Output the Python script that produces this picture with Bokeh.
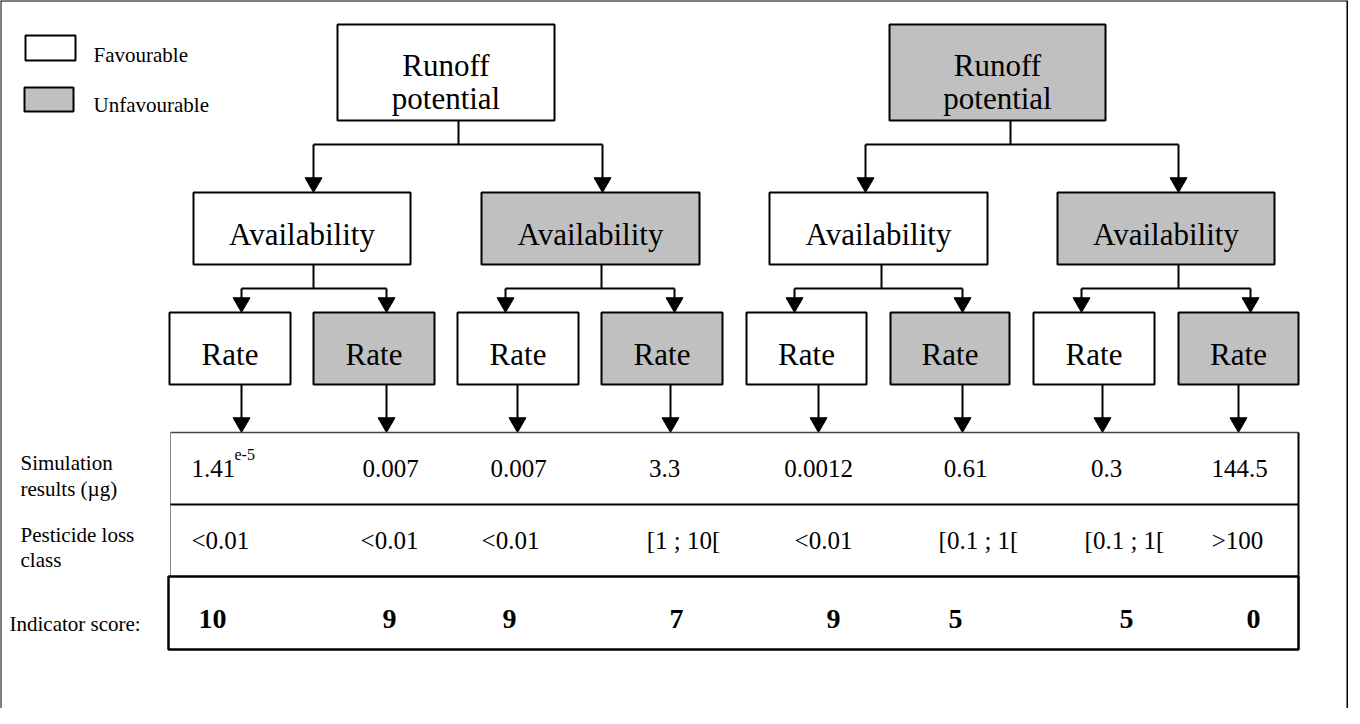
from bokeh.plotting import figure
from bokeh.models import Range1d
from bokeh.core.properties import value
from bokeh.embed import file_html
from bokeh.resources import INLINE

# ---------------- data ----------------
legend_labels = ["Favourable", "Unfavourable"]
legend_states = ["fav", "unfav"]

runoff_lines = ["Runoff", "potential"]
runoff_states = ["fav", "unfav"]
avail_label = "Availability"
avail_states = ["fav", "unfav", "fav", "unfav"]
rate_label = "Rate"
rate_states = ["fav", "unfav", "fav", "unfav", "fav", "unfav", "fav", "unfav"]

row_labels = [["Simulation", "results (\u00b5g)"], ["Pesticide loss", "class"], ["Indicator score:"]]
sim_results = ["1.41", "0.007", "0.007", "3.3", "0.0012", "0.61", "0.3", "144.5"]
sim_exponents = ["e-5", "", "", "", "", "", "", ""]
loss_classes = ["<0.01", "<0.01", "<0.01", "[1 ; 10[", "<0.01", "[0.1 ; 1[", "[0.1 ; 1[", ">100"]
scores = ["10", "9", "9", "7", "9", "5", "5", "0"]

# ---------------- style / layout ----------------
FILL = {"fav": "#ffffff", "unfav": "#c0c0c0"}
FONT = value("Liberation Serif")

legend_box_x = [(33, 83), (32, 81)]
legend_box_y = [(43, 68), (95, 119)]
legend_text_x = 101
legend_text_y = [62, 112]

runoff_x = [(345, 562), (897, 1113)]
runoff_y = (32, 128)
runoff_stem = [466, 1018]
runoff_text_y = [73, 106]
bar1_y = 152
avail_in = [(321, 610), (873, 1186)]

avail_x = [(201, 418), (489, 707), (777, 995), (1065, 1282)]
avail_y = (200, 272)
avail_text_y = 242
avail_stem = [321, 609, 889, 1186]
bar2_y = 296
rate_in = [(249, 394), (513, 682), (802, 970), (1089, 1258)]

rate_x = [(177, 298), (321, 442), (465, 586), (609, 730),
          (754, 874), (898, 1017), (1041, 1162), (1186, 1306)]
rate_y = (320, 392)
rate_text_y = 362
rate_out = [249, 394, 525, 678, 826, 970, 1110, 1246]

tab_left, tab_right = 178, 1306
tab_top, tab_div1, tab_div2, tab_bottom = 440, 512, 584, 657
score_left = 176

row1_x = [199, 398, 526, 672, 826, 973, 1114, 1247]
row2_x = [199, 397, 518, 691, 831, 986, 1132, 1245]
row3_x = [220, 397, 517, 684, 841, 963, 1134, 1261]
row_base = [476, 548, 626]

label_x = [28, 28, 17]
label_base = [[470, 496], [542, 567], [631]]

W, H = 1348, 708
p = figure(width=W, height=H, output_backend="svg", toolbar_location=None,
           x_range=Range1d(8, 8 + W), y_range=Range1d(8 + H, 8),
           min_border=0, outline_line_color=None)
p.axis.visible = False
p.grid.visible = False
p.background_fill_color = "white"
p.border_fill_color = "white"

LW = 2

# outer frame (left, top, right)
p.segment(x0=[8, 8, 1355], y0=[8, 8, 8], x1=[8, 1355, 1355], y1=[8 + H, 8, 8 + H],
          line_color="black", line_width=2)

# legend
p.quad(left=[a for a, b in legend_box_x], right=[b for a, b in legend_box_x],
       top=[a for a, b in legend_box_y], bottom=[b for a, b in legend_box_y],
       fill_color=[FILL[s] for s in legend_states], line_color="black", line_width=LW)
p.text(x=[legend_text_x] * 2, y=legend_text_y, text=legend_labels, text_font=FONT,
       text_font_size=value("21px"), text_align="left", text_baseline="alphabetic", text_color="black")

ARW = 17
TIP = ARW / 2 * 1.732 * 2 / 3  # centre-to-tip distance of a triangle marker

def arrows(xs, y_from, y_tip):
    p.segment(x0=xs, y0=[y_from] * len(xs), x1=xs, y1=[y_tip - 8] * len(xs),
              line_color="black", line_width=LW)
    p.scatter(x=xs, y=[y_tip - TIP] * len(xs), marker="inverted_triangle", size=ARW,
              fill_color="black", line_color="black", line_width=1)

# level 1 -> level 2 connectors
p.segment(x0=runoff_stem, y0=[runoff_y[1]] * 2, x1=runoff_stem, y1=[bar1_y] * 2,
          line_color="black", line_width=LW)
p.segment(x0=[a for a, b in avail_in], y0=[bar1_y] * 2, x1=[b for a, b in avail_in], y1=[bar1_y] * 2,
          line_color="black", line_width=LW)
arrows([x for pair in avail_in for x in pair], bar1_y, avail_y[0])

# level 2 -> level 3 connectors
p.segment(x0=avail_stem, y0=[avail_y[1]] * 4, x1=avail_stem, y1=[bar2_y] * 4,
          line_color="black", line_width=LW)
p.segment(x0=[a for a, b in rate_in], y0=[bar2_y] * 4, x1=[b for a, b in rate_in], y1=[bar2_y] * 4,
          line_color="black", line_width=LW)
arrows([x for pair in rate_in for x in pair], bar2_y, rate_y[0])

# level 3 -> table
arrows(rate_out, rate_y[1], tab_top)

# boxes
p.quad(left=[a for a, b in runoff_x], right=[b for a, b in runoff_x], top=[runoff_y[0]] * 2,
       bottom=[runoff_y[1]] * 2, fill_color=[FILL[s] for s in runoff_states],
       line_color="black", line_width=LW)
p.quad(left=[a for a, b in avail_x], right=[b for a, b in avail_x], top=[avail_y[0]] * 4,
       bottom=[avail_y[1]] * 4, fill_color=[FILL[s] for s in avail_states],
       line_color="black", line_width=LW)
p.quad(left=[a for a, b in rate_x], right=[b for a, b in rate_x], top=[rate_y[0]] * 8,
       bottom=[rate_y[1]] * 8, fill_color=[FILL[s] for s in rate_states],
       line_color="black", line_width=LW)

BOX_FS = value("31px")
for (a, b) in runoff_x:
    p.text(x=[(a + b) / 2] * 2, y=runoff_text_y, text=runoff_lines, text_font=FONT,
           text_font_size=BOX_FS, text_align="center", text_baseline="alphabetic", text_color="black")
p.text(x=[(a + b) / 2 for a, b in avail_x], y=[avail_text_y] * 4, text=[avail_label] * 4,
       text_font=FONT, text_font_size=BOX_FS, text_align="center", text_baseline="alphabetic",
       text_color="black")
p.text(x=[(a + b) / 2 for a, b in rate_x], y=[rate_text_y] * 8, text=[rate_label] * 8,
       text_font=FONT, text_font_size=BOX_FS, text_align="center", text_baseline="alphabetic",
       text_color="black")

# table lines
p.segment(x0=[tab_left], y0=[tab_top], x1=[tab_right], y1=[tab_top], line_color="#444444", line_width=1.5)
p.segment(x0=[tab_left], y0=[tab_top], x1=[tab_left], y1=[tab_div2], line_color="#888888", line_width=1)
p.segment(x0=[tab_left], y0=[tab_div1], x1=[tab_right], y1=[tab_div1], line_color="black", line_width=2)
p.segment(x0=[tab_right], y0=[tab_top], x1=[tab_right], y1=[tab_div2], line_color="black", line_width=2)
p.quad(left=[score_left], right=[tab_right], top=[tab_div2], bottom=[tab_bottom],
       fill_color=None, line_color="black", line_width=2.5)

# row labels
for lx, lines, bases in zip(label_x, row_labels, label_base):
    p.text(x=[lx] * len(lines), y=bases, text=lines, text_font=FONT, text_font_size=value("21px"),
           text_align="left", text_baseline="alphabetic", text_color="black")

# simulation results
p.text(x=row1_x[:1], y=[row_base[0]], text=sim_results[:1], text_font=FONT,
       text_font_size=value("25px"), text_align="left", text_baseline="alphabetic", text_color="black")
p.text(x=row1_x[1:], y=[row_base[0]] * 7, text=sim_results[1:], text_font=FONT,
       text_font_size=value("25px"), text_align="center", text_baseline="alphabetic", text_color="black")
p.text(x=[row1_x[0] + 43], y=[row_base[0] - 14], text=sim_exponents[:1], text_font=FONT,
       text_font_size=value("16px"), text_align="left", text_baseline="alphabetic", text_color="black")

# loss classes
p.text(x=row2_x[:1], y=[row_base[1]], text=loss_classes[:1], text_font=FONT,
       text_font_size=value("25px"), text_align="left", text_baseline="alphabetic", text_color="black")
p.text(x=row2_x[1:], y=[row_base[1]] * 7, text=loss_classes[1:], text_font=FONT,
       text_font_size=value("25px"), text_align="center", text_baseline="alphabetic", text_color="black")

# scores
p.text(x=row3_x, y=[row_base[2]] * 8, text=scores, text_font=FONT, text_font_style="bold",
       text_font_size=value("28px"), text_align="center", text_baseline="alphabetic", text_color="black")

open("out.html", "w").write(file_html(p, INLINE))
